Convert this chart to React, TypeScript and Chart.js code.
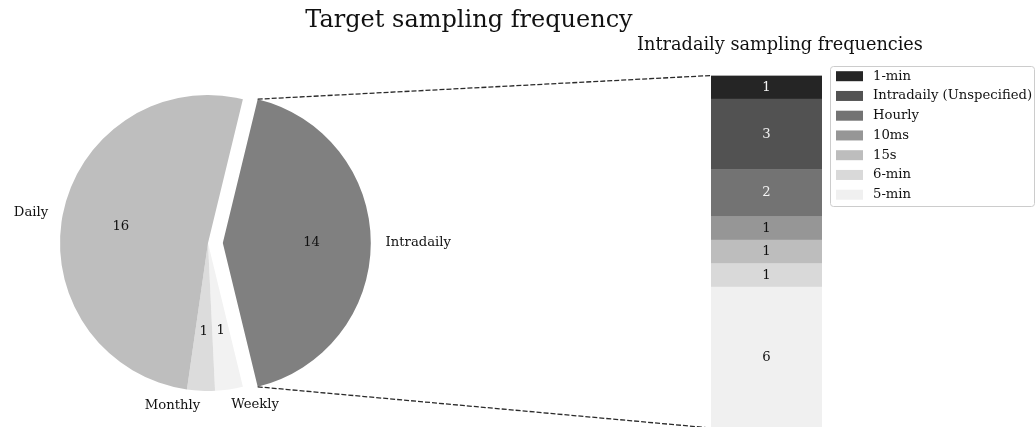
import React, { useEffect, useRef } from 'react';
import { Chart, registerables } from 'chart.js';

Chart.register(...registerables);

// ---------- data ----------
const pieCategories = ['Intradaily', 'Weekly', 'Monthly', 'Daily'];
const pieValues = [14, 1, 1, 17];
// counts printed on the wedges, as shown in the reference
const pieValueText = ['14', '1', '1', '16'];

const barCategories = ['5-min', '6-min', '15s', '10ms', 'Hourly', 'Intradaily (Unspecified)', '1-min'];
const barValues = [6, 1, 1, 1, 2, 3, 1];

// ---------- styles ----------
const pieColors = ['#808080', '#f2f2f2', '#dcdcdc', '#bebebe'];
const barColors = ['#f0f0f0', '#d9d9d9', '#bdbdbd', '#969696', '#737373', '#525252', '#252525'];
const barTextColors = ['#111', '#111', '#111', '#111', '#f4f4f4', '#f4f4f4', '#f4f4f4'];

const W = 1035;
const H = 427;
const FONT = '"DejaVu Serif", serif';
const LABEL_FS = 13.2;
const PIE_CX = 208;
const PIE_CY = 243;
const PIE_R = 148;
const EXPLODE = 0.1;
const EXPLODED_INDEX = 0;

const pieTotal = pieValues.reduce((a, b) => a + b, 0);
const explodedSpanDeg = (pieValues[EXPLODED_INDEX] / pieTotal) * 360;
const pieRotation = 90 - explodedSpanDeg / 2; // centre the exploded wedge on 3 o'clock
const explodeDx = EXPLODE * PIE_R;

function pieLabelPlugin(show: number[]) {
  return {
    id: 'pieLabels',
    afterDatasetsDraw(chart: any) {
      const ctx = chart.ctx;
      const meta = chart.getDatasetMeta(0);
      ctx.save();
      ctx.font = `${LABEL_FS}px ${FONT}`;
      ctx.fillStyle = '#111';
      ctx.textBaseline = 'middle';
      meta.data.forEach((arc: any, i: number) => {
        if (!show.includes(i)) return;
        const p = arc.getProps(['x', 'y', 'startAngle', 'endAngle', 'outerRadius'], true);
        const mid = (p.startAngle + p.endAngle) / 2;
        const c = Math.cos(mid);
        const s = Math.sin(mid);
        ctx.textAlign = c >= 0 ? 'left' : 'right';
        ctx.fillText(pieCategories[i], p.x + c * p.outerRadius * 1.1, p.y + s * p.outerRadius * 1.1);
        ctx.textAlign = 'center';
        ctx.fillText(pieValueText[i], p.x + c * p.outerRadius * 0.6, p.y + s * p.outerRadius * 0.6);
      });
      ctx.restore();
    },
  };
}

function pieConfig(colors: string[], show: number[], padLeft: number) {
  return {
    type: 'pie' as const,
    data: {
      labels: pieCategories,
      datasets: [
        {
          data: pieValues,
          backgroundColor: colors,
          borderWidth: 0,
        },
      ],
    },
    options: {
      animation: false as const,
      responsive: false,
      events: [],
      rotation: pieRotation,
      radius: PIE_R,
      layout: {
        padding: { left: padLeft, right: W - 2 * PIE_CX, top: 2 * PIE_CY - H, bottom: 0 },
      },
      plugins: { legend: { display: false }, tooltip: { enabled: false } },
    },
    plugins: [pieLabelPlugin(show)],
  };
}

export default function App() {
  const pieRef = useRef<HTMLCanvasElement>(null);
  const pieExRef = useRef<HTMLCanvasElement>(null);
  const barRef = useRef<HTMLCanvasElement>(null);

  useEffect(() => {
    const baseColors = pieColors.map((c, i) => (i === EXPLODED_INDEX ? 'rgba(0,0,0,0)' : c));
    const exColors = pieColors.map((c, i) => (i === EXPLODED_INDEX ? c : 'rgba(0,0,0,0)'));
    const basePie = new Chart(pieRef.current!, pieConfig(baseColors, [1, 2, 3], 0) as any);
    const exPie = new Chart(pieExRef.current!, pieConfig(exColors, [EXPLODED_INDEX], 2 * explodeDx) as any);

    const barTotal = barValues.reduce((a, b) => a + b, 0);

    const overlayPlugin = {
      id: 'overlay',
      afterDatasetsDraw(chart: any) {
        const ctx = chart.ctx;
        ctx.save();
        // segment labels
        ctx.font = `${LABEL_FS}px ${FONT}`;
        ctx.textAlign = 'center';
        ctx.textBaseline = 'middle';
        chart.data.datasets.forEach((ds: any, i: number) => {
          const el = chart.getDatasetMeta(i).data[0];
          const p = el.getProps(['x', 'y', 'base'], true);
          ctx.fillStyle = barTextColors[i];
          ctx.fillText(String(ds.data[0]), p.x, (p.y + p.base) / 2);
        });

        // connector lines from exploded wedge to bar
        const arc = exPie.getDatasetMeta(0).data[EXPLODED_INDEX] as any;
        const a = arc.getProps(['x', 'y', 'startAngle', 'endAngle', 'outerRadius'], true);
        const topEl = chart.getDatasetMeta(chart.data.datasets.length - 1).data[0];
        const botEl = chart.getDatasetMeta(0).data[0];
        const t = topEl.getProps(['x', 'y', 'width'], true);
        const b = botEl.getProps(['x', 'base', 'width'], true);
        ctx.strokeStyle = '#2a2a2a';
        ctx.lineWidth = 1.3;
        ctx.setLineDash([5, 2]);
        ctx.beginPath();
        ctx.moveTo(a.x + Math.cos(a.startAngle) * a.outerRadius, a.y + Math.sin(a.startAngle) * a.outerRadius);
        ctx.lineTo(t.x - t.width / 2, t.y);
        ctx.moveTo(a.x + Math.cos(a.endAngle) * a.outerRadius, a.y + Math.sin(a.endAngle) * a.outerRadius);
        ctx.lineTo(b.x - b.width / 2, b.base);
        ctx.stroke();
        ctx.setLineDash([]);

        // titles
        ctx.fillStyle = '#111';
        ctx.font = `24px ${FONT}`;
        ctx.fillText('Target sampling frequency', 469, 21);
        ctx.font = `17.7px ${FONT}`;
        ctx.fillText('Intradaily sampling frequencies', 780, 45);

        // legend
        const lx = 830.5;
        const ly = 66.5;
        const lw = 204;
        const lh = 140;
        ctx.beginPath();
        ctx.roundRect(lx, ly, lw, lh, 3);
        ctx.fillStyle = 'rgba(255,255,255,0.8)';
        ctx.fill();
        ctx.strokeStyle = '#cccccc';
        ctx.lineWidth = 1;
        ctx.stroke();
        ctx.font = `${LABEL_FS}px ${FONT}`;
        ctx.textAlign = 'left';
        const n = chart.data.datasets.length;
        for (let k = 0; k < n; k++) {
          const i = n - 1 - k;
          const ds = chart.data.datasets[i];
          const cy = 76.2 + k * 19.75;
          ctx.fillStyle = ds.backgroundColor;
          ctx.fillRect(836, cy - 5, 27, 10);
          ctx.fillStyle = '#111';
          ctx.fillText(ds.label, 873, cy);
        }
        ctx.restore();
      },
    };

    const bar = new Chart(barRef.current!, {
      type: 'bar',
      data: {
        labels: [''],
        datasets: barCategories.map((name, i) => ({
          label: name,
          data: [barValues[i]],
          backgroundColor: barColors[i],
          borderWidth: 0,
          barPercentage: 1,
          categoryPercentage: 1,
        })),
      },
      options: {
        animation: false,
        responsive: false,
        events: [],
        layout: { padding: { left: 711, right: W - 822, top: 75.5, bottom: 2 } },
        scales: {
          x: { stacked: true, display: false },
          y: { stacked: true, display: false, min: 0, max: barTotal },
        },
        plugins: { legend: { display: false }, tooltip: { enabled: false } },
      },
      plugins: [overlayPlugin],
    } as any);

    return () => {
      bar.destroy();
      exPie.destroy();
      basePie.destroy();
    };
  }, []);

  const cs: React.CSSProperties = { position: 'absolute', left: 0, top: 0 };
  return (
    <div style={{ position: 'absolute', left: 0, top: 0, width: W, height: H, overflow: 'hidden', background: '#fff' }}>
      <canvas ref={pieRef} width={W} height={H} style={{ ...cs, width: W, height: H }} />
      <canvas ref={pieExRef} width={W} height={H} style={{ ...cs, width: W, height: H }} />
      <canvas ref={barRef} width={W} height={430} style={{ ...cs, width: W, height: 430 }} />
    </div>
  );
}
